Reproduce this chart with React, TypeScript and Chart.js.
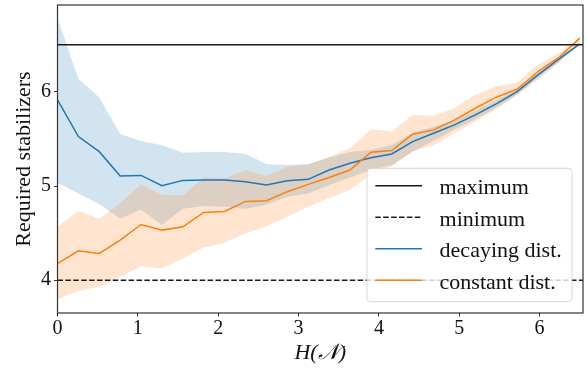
import { useEffect, useRef } from 'react';
import { Chart, registerables } from 'chart.js';

Chart.register(...registerables);

const xValues = [0, 0.26, 0.52, 0.78, 1.04, 1.3, 1.56, 1.82, 2.08, 2.34, 2.6, 2.86, 3.12, 3.38, 3.64, 3.9, 4.16, 4.42, 4.68, 4.94, 5.2, 5.46, 5.72, 5.98, 6.24, 6.5];

const decayingMean = [5.915, 5.525, 5.365, 5.106, 5.113, 5.004, 5.06, 5.064, 5.064, 5.046, 5.01, 5.057, 5.071, 5.17, 5.241, 5.3, 5.34, 5.471, 5.56, 5.649, 5.755, 5.872, 6.003, 6.18, 6.348, 6.51];
const decayingUpper = [6.784, 6.138, 5.94, 5.553, 5.479, 5.433, 5.354, 5.362, 5.362, 5.34, 5.234, 5.223, 5.23, 5.3, 5.36, 5.383, 5.436, 5.567, 5.63, 5.7, 5.8, 5.91, 6.04, 6.21, 6.37, 6.52];
const decayingLower = [5.035, 4.92, 4.81, 4.656, 4.75, 4.585, 4.76, 4.787, 4.78, 4.76, 4.8, 4.886, 4.92, 5.01, 5.09, 5.17, 5.223, 5.365, 5.48, 5.6, 5.71, 5.83, 5.97, 6.15, 6.32, 6.5];

const constantMean = [4.177, 4.312, 4.284, 4.426, 4.592, 4.532, 4.567, 4.72, 4.73, 4.837, 4.844, 4.94, 5.018, 5.09, 5.17, 5.358, 5.376, 5.55, 5.596, 5.7, 5.826, 5.943, 6.028, 6.216, 6.365, 6.57];
const constantUpper = [4.567, 4.737, 4.656, 4.816, 5.02, 4.904, 4.9, 5.09, 5.08, 5.17, 5.106, 5.205, 5.23, 5.31, 5.4, 5.603, 5.578, 5.755, 5.75, 5.826, 5.968, 6.057, 6.1, 6.287, 6.41, 6.58];
const constantLower = [3.795, 3.886, 3.93, 4.035, 4.149, 4.124, 4.23, 4.347, 4.397, 4.497, 4.574, 4.673, 4.78, 4.87, 4.96, 5.12, 5.21, 5.37, 5.43, 5.56, 5.684, 5.816, 5.968, 6.128, 6.31, 6.54];

const maximumLevel = 6.5;
const minimumLevel = 4;

const xRange = [0, 6.54];
const yRange = [3.652, 6.922];
const xTicks = [0, 1, 2, 3, 4, 5, 6];
const yTicks = [4, 5, 6];

const legendLabels = ['maximum', 'minimum', 'decaying dist.', 'constant dist.'];

const FONT = "'Liberation Serif', 'DejaVu Serif', serif";

const pts = (ys: number[]) => xValues.map((x, i) => ({ x, y: ys[i] }));

const framePlugin = {
  id: 'frame',
  afterDraw(chart: any) {
    const { ctx, chartArea: a } = chart;
    ctx.save();
    ctx.strokeStyle = '#333';
    ctx.lineWidth = 1.2;
    ctx.strokeRect(a.left, a.top, a.right - a.left, a.bottom - a.top);
    ctx.restore();
  },
};

const legendPlugin = {
  id: 'customLegend',
  afterDraw(chart: any) {
    const { ctx, chartArea: a } = chart;
    const w = 205;
    const h = 133.4;
    const right = a.right - 11;
    const bottom = a.bottom - 11.3;
    const left = right - w;
    const top = bottom - h;
    ctx.save();
    ctx.beginPath();
    const r = 3.5;
    ctx.moveTo(left + r, top);
    ctx.lineTo(right - r, top);
    ctx.arcTo(right, top, right, top + r, r);
    ctx.lineTo(right, bottom - r);
    ctx.arcTo(right, bottom, right - r, bottom, r);
    ctx.lineTo(left + r, bottom);
    ctx.arcTo(left, bottom, left, bottom - r, r);
    ctx.lineTo(left, top + r);
    ctx.arcTo(left, top, left + r, top, r);
    ctx.closePath();
    ctx.fillStyle = 'rgba(255,255,255,0.8)';
    ctx.fill();
    ctx.strokeStyle = 'rgba(204,204,204,0.8)';
    ctx.lineWidth = 1;
    ctx.stroke();

    const datasets = chart.data.datasets;
    legendLabels.forEach((label: string, i: number) => {
      const ds = datasets.find((d: any) => d.label === label);
      const y = top + 17.4 + i * 31.5;
      ctx.beginPath();
      ctx.setLineDash(ds.borderDash || []);
      ctx.strokeStyle = ds.borderColor;
      ctx.lineWidth = ds.borderWidth;
      ctx.moveTo(left + 8.3, y);
      ctx.lineTo(left + 55, y);
      ctx.stroke();
      ctx.setLineDash([]);
      ctx.fillStyle = '#111';
      ctx.font = `22px ${FONT}`;
      ctx.textBaseline = 'alphabetic';
      ctx.textAlign = 'left';
      ctx.fillText(label, left + 72.6, y + 8.5);
    });
    ctx.restore();
  },
};

export default function App() {
  const ref = useRef<HTMLCanvasElement | null>(null);

  useEffect(() => {
    if (!ref.current) return;
    const tickFont = { family: FONT, size: 20 };
    const chart = new Chart(ref.current, {
      type: 'line',
      data: {
        datasets: [
          {
            label: 'maximum',
            data: [{ x: xRange[0], y: maximumLevel }, { x: xRange[1], y: maximumLevel }],
            borderColor: '#1a1a1a',
            borderWidth: 1.5,
            pointRadius: 0,
            fill: false,
            order: 1,
          },
          {
            label: 'minimum',
            data: [{ x: xRange[0], y: minimumLevel }, { x: xRange[1], y: minimumLevel }],
            borderColor: '#1a1a1a',
            borderWidth: 1.5,
            borderDash: [5.5, 2.4],
            pointRadius: 0,
            fill: false,
            order: 1,
          },
          {
            label: 'decaying dist.',
            data: pts(decayingMean),
            borderColor: '#1f77b4',
            borderWidth: 1.5,
            pointRadius: 0,
            fill: false,
            order: 3,
          },
          {
            label: 'constant dist.',
            data: pts(constantMean),
            borderColor: '#ff7f0e',
            borderWidth: 1.5,
            pointRadius: 0,
            fill: false,
            order: 2,
          },
          {
            label: 'decaying lower',
            data: pts(decayingLower),
            borderColor: 'rgba(0,0,0,0)',
            borderWidth: 0,
            pointRadius: 0,
            fill: false,
            order: 5,
          },
          {
            label: 'decaying upper',
            data: pts(decayingUpper),
            borderColor: 'rgba(0,0,0,0)',
            borderWidth: 0,
            pointRadius: 0,
            backgroundColor: 'rgba(31,119,180,0.2)',
            fill: '-1',
            order: 5,
          },
          {
            label: 'constant lower',
            data: pts(constantLower),
            borderColor: 'rgba(0,0,0,0)',
            borderWidth: 0,
            pointRadius: 0,
            fill: false,
            order: 4,
          },
          {
            label: 'constant upper',
            data: pts(constantUpper),
            borderColor: 'rgba(0,0,0,0)',
            borderWidth: 0,
            pointRadius: 0,
            backgroundColor: 'rgba(255,127,14,0.2)',
            fill: '-1',
            order: 4,
          },
        ],
      },
      options: {
        responsive: false,
        animation: false,
        layout: { padding: { left: 0, right: 4, top: 5, bottom: 0 } },
        elements: { line: { tension: 0 } },
        plugins: {
          legend: { display: false },
          tooltip: { enabled: false },
        },
        scales: {
          x: {
            type: 'linear',
            min: xRange[0],
            max: xRange[1],
            afterBuildTicks: (s: any) => {
              s.ticks = xTicks.map((v) => ({ value: v }));
            },
            afterFit: (s: any) => {
              s.height = 56;
              s.paddingLeft = 0;
              s.paddingRight = 0;
            },
            ticks: {
              font: tickFont,
              color: '#111',
              padding: 0,
              maxRotation: 0,
              autoSkip: false,
              callback: (v: any) => String(v),
            },
            grid: {
              drawOnChartArea: false,
              drawTicks: true,
              tickLength: 3.5,
              color: '#333',
              tickWidth: 1,
            },
            border: { display: false },
            title: {
              display: true,
              text: 'H(𝒩)',
              color: '#111',
              font: { family: FONT, size: 22, style: 'italic' },
              padding: { top: 0, bottom: 3 },
            },
          },
          y: {
            type: 'linear',
            min: yRange[0],
            max: yRange[1],
            afterBuildTicks: (s: any) => {
              s.ticks = yTicks.map((v) => ({ value: v }));
            },
            afterFit: (s: any) => {
              s.width = 57.5;
              s.paddingTop = 0;
              s.paddingBottom = 0;
            },
            ticks: {
              font: tickFont,
              color: '#111',
              padding: 3,
              autoSkip: false,
              callback: (v: any) => String(v),
            },
            grid: {
              drawOnChartArea: false,
              drawTicks: true,
              tickLength: 3.5,
              color: '#333',
              tickWidth: 1,
            },
            border: { display: false },
            title: {
              display: true,
              text: 'Required stabilizers',
              color: '#111',
              font: { family: FONT, size: 22 },
              padding: { top: 11, bottom: 0 },
            },
          },
        },
      },
      plugins: [framePlugin, legendPlugin],
    } as any);
    return () => chart.destroy();
  }, []);

  return (
    <div style={{ position: 'absolute', left: 0, top: 0, width: 587, height: 369, background: '#fff' }}>
      <canvas ref={ref} width={587} height={369} style={{ width: 587, height: 369, display: 'block' }} />
    </div>
  );
}
